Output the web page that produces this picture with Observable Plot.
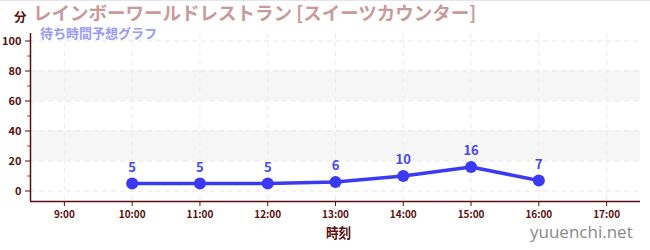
<!DOCTYPE html>
<html><head><meta charset="utf-8">
<script src="https://cdn.jsdelivr.net/npm/d3@7"></script>
<script src="https://cdn.jsdelivr.net/npm/@observablehq/plot@0.6"></script>
<style>
body{margin:0;background:#fff;font-family:"Noto Sans CJK JP","Noto Sans",sans-serif;}
#wrap{position:relative;width:650px;height:250px;border-top:1px solid #e4e4f4;box-sizing:border-box;}
.t{position:absolute;white-space:nowrap;line-height:1;transform-origin:0 0;}
</style></head><body>
<div id="wrap">
<div id="chart"></div>
<div class="t" style="left:14px;top:10px;font-size:12.5px;font-weight:bold;color:#5a0f0f;">分</div>
<div class="t" style="left:33px;top:2px;font-size:18.5px;font-weight:bold;color:#c99a9a;">レインボーワールドレストラン [スイーツカウンター]</div>
<div class="t" style="left:40px;top:25px;font-size:13px;font-weight:bold;color:#9a9af8;">待ち時間予想グラフ</div>
<div class="t" style="left:326px;top:224px;font-size:14px;font-weight:bold;color:#5a0f0f;transform:scaleX(0.9);">時刻</div>
<div class="t" style="left:530px;top:222px;font-size:17px;font-family:'Open Sans',sans-serif;color:#888;">yuuenchi.net</div>
</div>
<script>
const hours = [10, 11, 12, 13, 14, 15, 16];
const waits = [5, 5, 5, 6, 10, 16, 7];
const xTicks = [9, 10, 11, 12, 13, 14, 15, 16, 17];
const xTickLabels = ["9:00","10:00","11:00","12:00","13:00","14:00","15:00","16:00","17:00"];
const yTicks = [0, 20, 40, 60, 80, 100];
const yMinor = [10, 30, 50, 70, 90];
const bands = [[20, 40], [60, 80]];

const data = hours.map((h, i) => ({h, w: waits[i]}));
const bandData = bands.map(([a, b]) => ({a, b}));
const dark = "#5a0f0f";
const fmtX = (d) => xTickLabels[xTicks.indexOf(d)];

const chart = Plot.plot({
  width: 650, height: 249,
  marginLeft: 30, marginRight: 10, marginTop: 32, marginBottom: 49,
  style: {fontFamily: "'Noto Sans CJK JP', sans-serif", fontSize: "10px", color: dark, fontWeight: "bold"},
  x: {type: "linear", domain: [8.5, 17.5]},
  y: {type: "linear", domain: [-7, 105]},
  marks: [
    Plot.rectY(bandData, {x1: 8.5, x2: 17.5, y1: "a", y2: "b", fill: "#f6f6f6"}),
    Plot.ruleY(yTicks, {stroke: "#e6e6e6", strokeDasharray: "5,4"}),
    Plot.ruleX(xTicks, {stroke: "#ececec", strokeDasharray: "5,4"}),
    Plot.axisY(yMinor, {stroke: "#e02020", tickSize: 3, tickFormat: () => "", label: null}),
    Plot.axisY(yTicks, {stroke: dark, tickSize: 5, fill: dark, label: null, fontSize: 11}),
    Plot.axisX(xTicks, {stroke: dark, tickSize: 5, fill: dark, label: null, tickFormat: fmtX}),
    Plot.ruleX([8.5], {stroke: dark, strokeWidth: 1.5}),
    Plot.ruleY([-7], {stroke: dark, strokeWidth: 1.5}),
    Plot.line(data, {x: "h", y: "w", stroke: "#3a3af5", strokeWidth: 3.5}),
    Plot.dot(data, {x: "h", y: "w", fill: "#3a3af5", r: 6}),
    Plot.text(data, {x: "h", y: "w", text: d => String(d.w), dy: -16, fill: "#4848ee", fontSize: 13, fontWeight: "bold"})
  ]
});
document.getElementById("chart").appendChild(chart);
</script>
</body></html>
